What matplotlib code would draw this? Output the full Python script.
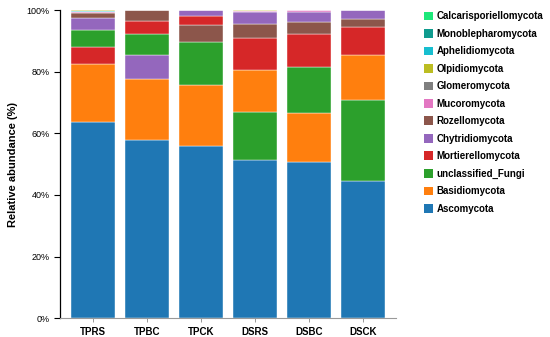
import numpy as np
import matplotlib
matplotlib.use('Agg')
import matplotlib.pyplot as plt
from matplotlib.patches import Patch
from matplotlib.ticker import PercentFormatter

plt.rcParams['font.family'] = ['Liberation Sans', 'DejaVu Sans']

samples = ['TPRS', 'TPBC', 'TPCK', 'DSRS', 'DSBC', 'DSCK']

phyla = ['Ascomycota', 'Basidiomycota', 'unclassified_Fungi', 'Mortierellomycota',
         'Chytridiomycota', 'Rozellomycota', 'Mucoromycota', 'Glomeromycota',
         'Olpidiomycota', 'Aphelidiomycota', 'Monoblepharomycota', 'Calcarisporiellomycota']

asco = [63.5, 57.8, 55.8, 51.5, 50.6, 44.6]
basid = [18.9, 19.8, 19.8, 13.7, 15.9, 14.7]
uncl = [5.4, 7.0, 14.2, 15.5, 15.0, 26.1]
mort = [5.6, 4.1, 3.0, 10.3, 10.9, 9.0]
chyt = [4.0, 7.8, 1.8, 3.9, 3.0, 2.7]
roz = [1.5, 3.4, 5.3, 4.5, 3.9, 2.8]
muco = [0.4, 0.05, 0.05, 0.4, 0.6, 0.05]
glom = [0.2, 0.02, 0.02, 0.1, 0.05, 0.02]
olp = [0.1, 0.01, 0.01, 0.05, 0.02, 0.01]
aph = [0.3, 0.01, 0.01, 0.05, 0.02, 0.01]
mono = [0.05, 0.01, 0.01, 0.02, 0.01, 0.01]
calc = [0.02, 0.0, 0.0, 0.01, 0.0, 0.0]

colors = ['#1f77b4', '#ff7f0e', '#2ca02c', '#d62728', '#9467bd', '#8c564b',
          '#e377c2', '#7f7f7f', '#bcbd22', '#17becf', '#0f9b8e', '#1de87a']

data = np.array([asco, basid, uncl, mort, chyt, roz, muco, glom, olp, aph, mono, calc])
data = data / data.sum(axis=0) * 100

fig = plt.figure(figsize=(5.5, 3.37), dpi=100)
ax = fig.add_axes([0.109, 0.056, 0.611, 0.914])

x = np.arange(len(samples))
# each bar is stacked from largest to smallest
for j in range(len(samples)):
    order = np.argsort(-data[:, j], kind='stable')
    bottom = 0
    for i in order:
        ax.bar(x[j], data[i, j], 0.8, bottom=bottom, color=colors[i],
               edgecolor='white', linewidth=0.3)
        bottom += data[i, j]

ax.set_xlim(-0.61, 5.61)
ax.set_ylim(0, 100)
ax.set_yticks([0, 20, 40, 60, 80, 100])
ax.yaxis.set_major_formatter(PercentFormatter(decimals=0))
ax.set_xticks(x)
ax.set_xticklabels(samples, fontsize=7, fontweight='bold')
ax.tick_params(axis='y', labelsize=6.5, length=4, width=0.8)
ax.tick_params(axis='x', length=3, width=0.6, color='#888888')
ax.set_ylabel('Relative abundance (%)', fontsize=8, fontweight='bold', labelpad=6)

for s in ['top', 'right']:
    ax.spines[s].set_visible(False)
ax.spines['bottom'].set_color('#999999')
ax.spines['left'].set_linewidth(0.9)

handles = [Patch(facecolor=colors[i], label=phyla[i]) for i in range(len(phyla))][::-1]
fig.legend(handles=handles, loc='upper left', bbox_to_anchor=(0.7545, 0.9926), frameon=False,
           prop={'size': 7, 'weight': 'bold'}, handlelength=0.95, handleheight=1.0,
           handletextpad=0.35, labelspacing=0.77)

fig.savefig('out.png', dpi=100)
